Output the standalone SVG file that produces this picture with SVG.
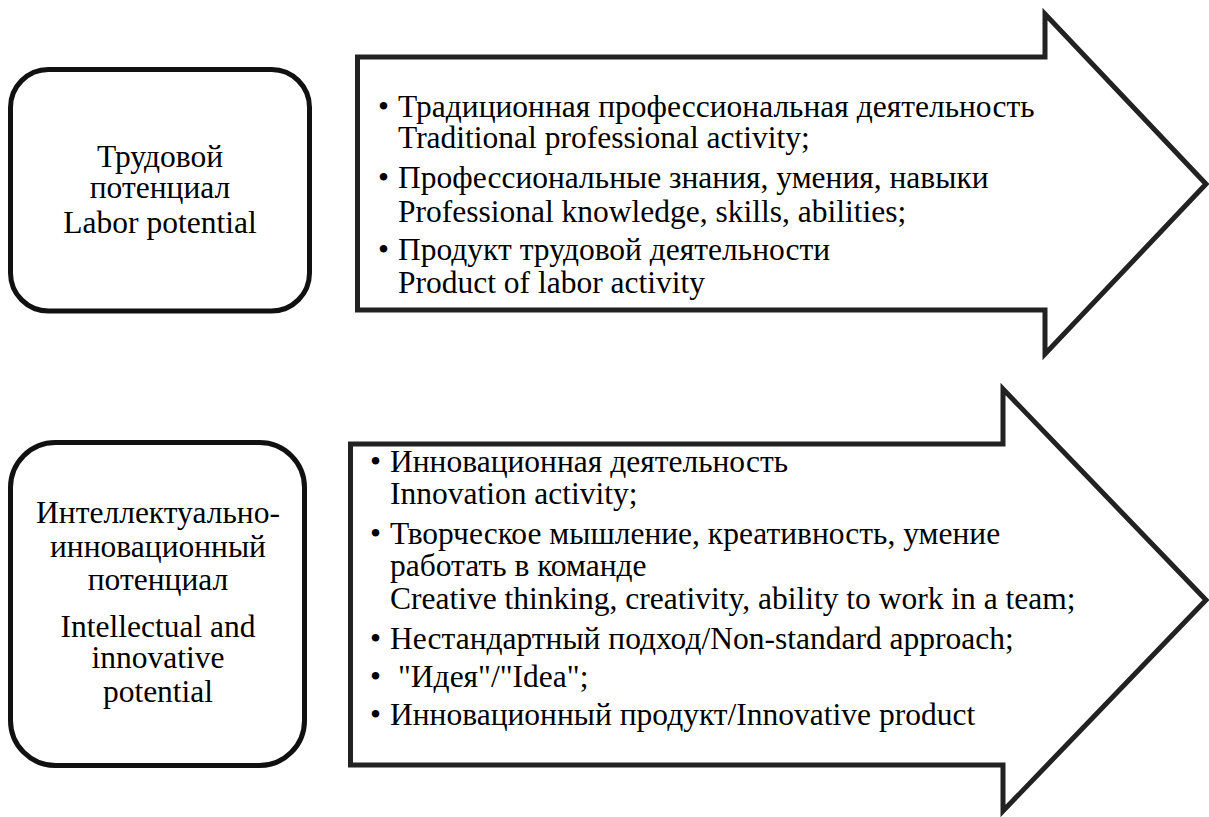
<svg xmlns="http://www.w3.org/2000/svg" width="1209" height="817" viewBox="0 0 1209 817">
<style>
.box{fill:#fff;stroke:#111;stroke-width:5}
.arrow{fill:#fff;stroke:#222;stroke-width:5;stroke-linejoin:miter}
text{font-family:"Liberation Serif","Times New Roman",serif;font-size:31.5px;fill:#000}
.c{text-anchor:middle}
</style>
<rect width="1209" height="817" fill="#fff"/>
<g id="connectors">
<polygon id="arrow1" class="arrow" points="357.5,57 1045,57 1045,14 1206,184 1045,354 1045,310 357.5,310"/>
<polygon id="arrow2" class="arrow" points="350.5,444 1003,444 1003,389 1206,600 1003,811 1003,765 350.5,765"/>
</g>
<g id="node-labor">
<rect class="box" x="10.5" y="69.5" width="299" height="241.5" rx="38" ry="38"/>
<text class="c" x="160" y="167">Трудовой</text>
<text class="c" x="160" y="198">потенциал</text>
<text class="c" x="160" y="233">Labor potential</text>
</g>
<g id="node-intellectual">
<rect class="box" x="10.5" y="442.5" width="294" height="323" rx="45" ry="45"/>
<text class="c" x="158" y="523">Интеллектуально-</text>
<text class="c" x="158" y="557">инновационный</text>
<text class="c" x="158" y="590">потенциал</text>
<text class="c" x="158" y="637">Intellectual and</text>
<text class="c" x="158" y="668">innovative</text>
<text class="c" x="158" y="702">potential</text>
</g>
<g id="list1">
<text x="378" y="117">•</text>
<text x="398" y="117">Традиционная профессиональная деятельность</text>
<text x="398" y="148">Traditional professional activity;</text>
<text x="378" y="188">•</text>
<text x="398" y="188">Профессиональные знания, умения, навыки</text>
<text x="398" y="222">Professional knowledge, skills, abilities;</text>
<text x="378" y="260">•</text>
<text x="398" y="260">Продукт трудовой деятельности</text>
<text x="398" y="293">Product of labor activity</text>
</g>
<g id="list2">
<text x="370" y="472">•</text>
<text x="390" y="472">Инновационная деятельность</text>
<text x="390" y="504">Innovation activity;</text>
<text x="370" y="544">•</text>
<text x="390" y="544">Творческое мышление, креативность, умение</text>
<text x="390" y="576">работать в команде</text>
<text x="390" y="609">Creative thinking, creativity, ability to work in a team;</text>
<text x="370" y="649">•</text>
<text x="390" y="649">Нестандартный подход/Non-standard approach;</text>
<text x="370" y="687">•</text>
<text x="398" y="687">"Идея"/"Idea";</text>
<text x="370" y="725">•</text>
<text x="390" y="725">Инновационный продукт/Innovative product</text>
</g>
</svg>
